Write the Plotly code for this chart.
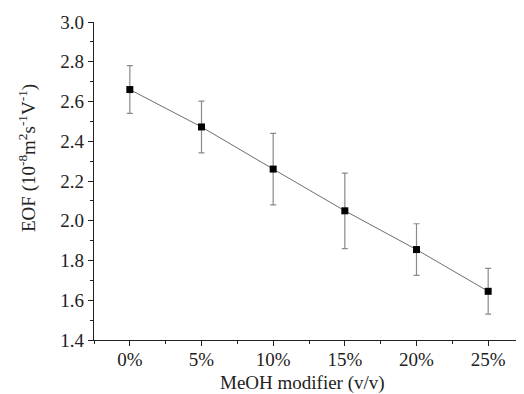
import plotly.graph_objects as go

categories = ["0%", "5%", "10%", "15%", "20%", "25%"]
eof = [2.66, 2.472, 2.26, 2.05, 1.855, 1.645]
err = [0.12, 0.13, 0.18, 0.19, 0.13, 0.115]
y_ticks = [1.4, 1.6, 1.8, 2.0, 2.2, 2.4, 2.6, 2.8, 3.0]

xpos = list(range(len(categories)))
font = "Liberation Serif, Times New Roman, serif"

# page has an 8px body margin; plot area target in page px: x 94-524, y 22-340
fig = go.Figure()
fig.add_trace(go.Scatter(
    x=xpos, y=eof, mode="lines+markers",
    line=dict(color="#6e6e6e", width=1),
    marker=dict(symbol="square", size=7, color="black"),
    error_y=dict(type="data", array=err, visible=True, color="#8a8a8a", thickness=1.2, width=3),
    showlegend=False,
))

fig.update_layout(
    width=516, height=386,
    margin=dict(l=86, r=0, t=14, b=54),
    paper_bgcolor="white", plot_bgcolor="white",
    font=dict(family=font, size=19, color="#222"),
    annotations=[
        dict(text="MeOH modifier (v/v)", xref="paper", yref="paper",
             x=(302 - 94) / 430, y=-(383 - 340) / 318,
             xanchor="center", yanchor="middle", showarrow=False,
             font=dict(size=19, family=font, color="#222")),
        dict(text="EOF (10<sup>-8</sup>m<sup>2</sup>s<sup>-1</sup>V<sup>-1</sup>)", xref="paper", yref="paper",
             x=-(94 - 27) / 430, y=(340 - 158) / 318, textangle=-90,
             xanchor="center", yanchor="middle", showarrow=False,
             font=dict(size=19, family=font, color="#222")),
    ],
)
fig.update_xaxes(
    range=[-0.5, 5.5], tickmode="array", tickvals=xpos, ticktext=categories,
    showline=True, linecolor="#222", linewidth=1.2, ticks="outside", ticklen=5, tickcolor="#222",
    showgrid=False, zeroline=False, ticklabelstandoff=-3,
    minor=dict(tickmode="linear", tick0=0.5, dtick=1, ticks="outside", ticklen=3, tickcolor="#222"),
    tickfont=dict(size=19, family=font),
)
fig.update_yaxes(
    range=[1.4, 3.0], tickmode="array", tickvals=y_ticks, ticktext=[f"{v:.1f}" for v in y_ticks],
    showline=True, linecolor="#222", linewidth=1.2, ticks="outside", ticklen=5, tickcolor="#222",
    showgrid=False, zeroline=False,
    minor=dict(tickmode="linear", tick0=1.5, dtick=0.2, ticks="outside", ticklen=3, tickcolor="#222"),
    tickfont=dict(size=19, family=font),
)

fig.write_html("out.html")
